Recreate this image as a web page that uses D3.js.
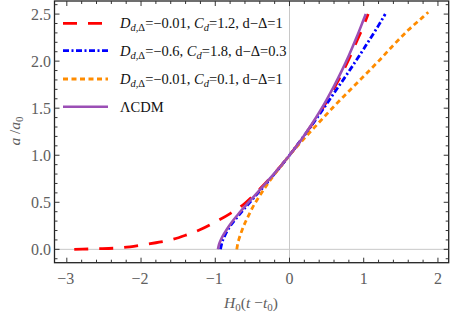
<!DOCTYPE html>
<html><head><meta charset="utf-8">
<script src="https://cdn.jsdelivr.net/npm/d3@7"></script>
<style>body{margin:0;background:#fff}svg{display:block}</style>
</head><body>
<script>
// Data
const xTicks = [-3, -2, -1, 0, 1, 2];
const yTicks = [0.0, 0.5, 1.0, 1.5, 2.0, 2.5];

const redX = [-2.9, -2.6, -2.3, -2.0, -1.8, -1.6, -1.4, -1.2, -1.0, -0.8, -0.6, -0.4, -0.2, 0, 0.2, 0.4, 0.6, 0.8, 0.9, 1.0, 1.06];
const redY = [0.0, 0.006, 0.015, 0.045, 0.07, 0.10, 0.15, 0.21, 0.29, 0.38, 0.49, 0.64, 0.81, 1.0, 1.21, 1.44, 1.71, 2.02, 2.2, 2.38, 2.5];

const blueX = [-0.93, -0.91, -0.88, -0.85, -0.8, -0.7, -0.6, -0.5, -0.4, -0.3, -0.2, -0.1, 0, 0.2, 0.4, 0.6, 0.8, 1.0, 1.2, 1.29];
const blueY = [0.0, 0.07, 0.13, 0.18, 0.245, 0.345, 0.44, 0.53, 0.62, 0.71, 0.805, 0.90, 1.0, 1.21, 1.43, 1.66, 1.89, 2.13, 2.38, 2.5];

const orangeX = [-0.71, -0.7, -0.68, -0.65, -0.6, -0.55, -0.5, -0.4, -0.3, -0.2, -0.1, 0, 0.2, 0.4, 0.6, 0.8, 1.0, 1.2, 1.4, 1.6, 1.8, 1.87];
const orangeY = [0.0, 0.05, 0.11, 0.18, 0.28, 0.36, 0.44, 0.57, 0.69, 0.80, 0.90, 1.0, 1.18, 1.35, 1.52, 1.68, 1.84, 2.0, 2.17, 2.33, 2.47, 2.52];

const lcdmX = [-0.964, -0.95, -0.93, -0.9, -0.85, -0.8, -0.7, -0.6, -0.5, -0.4, -0.3, -0.2, -0.1, 0, 0.1, 0.2, 0.3, 0.4, 0.5, 0.6, 0.7, 0.8, 0.9, 1.0, 1.028];
const lcdmY = [0.0, 0.05, 0.091, 0.14, 0.205, 0.264, 0.365, 0.457, 0.545, 0.632, 0.720, 0.809, 0.902, 1.0, 1.101, 1.212, 1.329, 1.454, 1.589, 1.734, 1.891, 2.060, 2.245, 2.444, 2.5];

const seriesNames = ["red", "blue", "orange", "lcdm"];

const W = 450, H = 318;
const SERIF = '"Liberation Serif"';
const svg = d3.select("body").append("svg").attr("width", W).attr("height", H);

const x = d3.scaleLinear().domain([-3.166, 2.145]).range([54.5, 448.7]);
const y = d3.scaleLinear().domain([-0.142, 2.639]).range([262.7, 1]);
const [x0, x1] = x.range(), [y0, y1] = y.range();

svg.append("defs").append("clipPath").attr("id", "clip")
  .append("rect").attr("x", x0).attr("y", y1).attr("width", x1 - x0).attr("height", y0 - y1);

// zero axes
svg.append("line").attr("x1", x(0)).attr("x2", x(0)).attr("y1", y0).attr("y2", y1)
  .attr("stroke", "#c8c8c8").attr("stroke-width", 1);
svg.append("line").attr("x1", x0).attr("x2", x1).attr("y1", y(0)).attr("y2", y(0))
  .attr("stroke", "#c8c8c8").attr("stroke-width", 1);

const line = d3.line().x(d => x(d[0])).y(d => y(d[1])).curve(d3.curveMonotoneX);
const zip = (a, b) => a.map((v, i) => [v, b[i]]);

const styles = {
  red:   {data: zip(redX, redY), color: "#ff0000", dash: "14,11", w: 2.8},
  blue:  {data: zip(blueX, blueY), color: "#0000ff", dash: "6,2.5,2,2.5", w: 2.8},
  orange:{data: zip(orangeX, orangeY), color: "#ff8c00", dash: "5,3.5", w: 2.8},
  lcdm:  {data: zip(lcdmX, lcdmY), color: "#9b4fb5", dash: null, w: 2.6}
};

const g = svg.append("g").attr("clip-path", "url(#clip)");
seriesNames.forEach(k => {
  const s = styles[k];
  g.append("path").attr("d", line(s.data)).attr("fill", "none")
    .attr("stroke", s.color).attr("stroke-width", s.w)
    .attr("stroke-dasharray", s.dash);
});

// frame
svg.append("rect").attr("x", x0).attr("y", y1).attr("width", x1 - x0).attr("height", y0 - y1)
  .attr("fill", "none").attr("stroke", "#222").attr("stroke-width", 1.3);

// ticks (inward, all four sides)
const xMinor = d3.range(-3.2, 2.21, 0.2).map(v => +v.toFixed(2)).filter(v => v >= -3.166 && v <= 2.145);
const yMinor = d3.range(-0.1, 2.65, 0.1).map(v => +v.toFixed(2)).filter(v => v >= -0.142 && v <= 2.639);
const isMajor = (v, step) => Math.abs(v / step - Math.round(v / step)) < 1e-6;
const tk = svg.append("g").attr("stroke", "#333").attr("stroke-width", 1);
xMinor.forEach(v => {
  const L = isMajor(v, 1) ? 5 : 3;
  tk.append("line").attr("x1", x(v)).attr("x2", x(v)).attr("y1", y0).attr("y2", y0 - L);
  tk.append("line").attr("x1", x(v)).attr("x2", x(v)).attr("y1", y1).attr("y2", y1 + L);
});
yMinor.forEach(v => {
  const L = isMajor(v, 0.5) ? 5 : 3;
  tk.append("line").attr("x1", x0).attr("x2", x0 + L).attr("y1", y(v)).attr("y2", y(v));
  tk.append("line").attr("x1", x1).attr("x2", x1 - L).attr("y1", y(v)).attr("y2", y(v));
});

const fmtX = v => (v < 0 ? "\u2212" : "") + Math.abs(v);
svg.append("g").selectAll("text").data(xTicks).join("text")
  .attr("x", d => x(d) - (d < 0 ? 1 : 0)).attr("y", 283.5)
  .attr("text-anchor", "middle").attr("font-size", 16).style("font-family", SERIF)
  .attr("fill", "#606060").text(fmtX);
svg.append("g").selectAll("text").data(yTicks).join("text")
  .attr("x", 51).attr("y", d => y(d) + 5.5)
  .attr("text-anchor", "end").attr("font-size", 16).style("font-family", SERIF)
  .attr("fill", "#606060").text(d => d.toFixed(1));

// axis labels
const xl = svg.append("text").attr("x", 251).attr("y", 308).attr("text-anchor", "middle")
  .attr("font-size", 15.5).style("font-family", SERIF).attr("fill", "#606060");
xl.append("tspan").attr("font-style", "italic").text("H");
xl.append("tspan").attr("font-size", 11).attr("dy", 3).text("0");
xl.append("tspan").attr("dy", -3).text("(");
xl.append("tspan").attr("font-style", "italic").text("t");
xl.append("tspan").text(" \u2212");
xl.append("tspan").attr("font-style", "italic").text("t");
xl.append("tspan").attr("font-size", 11).attr("dy", 3).text("0");
xl.append("tspan").attr("dy", -3).text(")");

const yl = svg.append("text").attr("transform", "translate(20,131) rotate(-90)")
  .attr("text-anchor", "middle").attr("font-size", 15.5).style("font-family", SERIF).attr("fill", "#606060");
yl.append("tspan").attr("font-style", "italic").text("a");
yl.append("tspan").text(" /");
yl.append("tspan").attr("font-style", "italic").text("a");
yl.append("tspan").attr("font-size", 11).attr("dy", 3).text("0");

// legend
const legendRows = [
  {k: "red", D: "\u22120.01", C: "1.2", dd: "1"},
  {k: "blue", D: "\u22120.6", C: "1.8", dd: "0.3"},
  {k: "orange", D: "\u22120.01", C: "0.1", dd: "1"},
  {k: "lcdm"}
];
const legendY = [23.3, 50.7, 79, 106.7];
const lg = svg.append("g");
legendRows.forEach((r, i) => {
  const s = styles[r.k];
  const yy = legendY[i];
  lg.append("line").attr("x1", 63).attr("x2", 108).attr("y1", yy).attr("y2", yy)
    .attr("stroke", s.color).attr("stroke-width", s.w).attr("stroke-dasharray", s.dash);
  const t = lg.append("text").attr("x", 120).attr("y", yy + 5)
    .attr("font-size", 14.5).style("font-family", SERIF).attr("fill", "#111");
  if (r.D === undefined) {
    t.text("\u039BCDM");
  } else {
    t.append("tspan").attr("font-style", "italic").text("D");
    t.append("tspan").attr("font-size", 10.5).attr("dy", 3).attr("font-style", "italic").text("d");
    t.append("tspan").attr("font-size", 10.5).text(",\u0394");
    t.append("tspan").attr("dy", -3).text("=" + r.D + ", ");
    t.append("tspan").attr("font-style", "italic").text("C");
    t.append("tspan").attr("font-size", 10.5).attr("dy", 3).attr("font-style", "italic").text("d");
    t.append("tspan").attr("dy", -3).text("=" + r.C + ", d\u2212\u0394=" + r.dd);
  }
});
</script>
</body></html>
